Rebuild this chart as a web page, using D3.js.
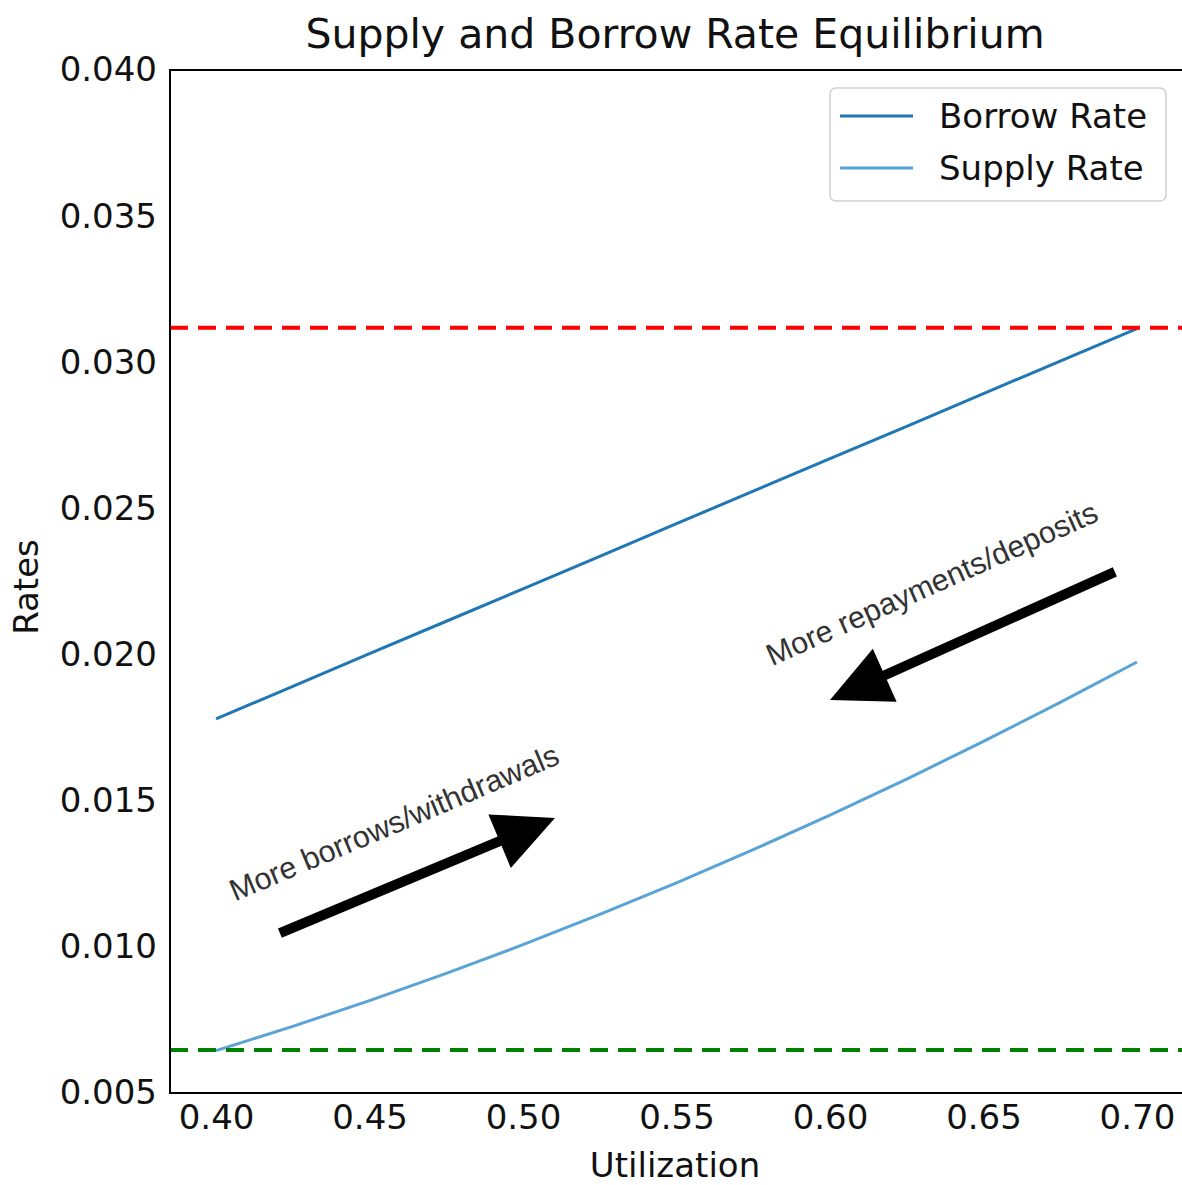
<!DOCTYPE html>
<html>
<head>
<meta charset="utf-8">
<script src="https://cdn.jsdelivr.net/npm/d3@7"></script>
<style>
  body { margin: 0; background: #fff; }
</style>
</head>
<body>
<svg id="chart" width="1182" height="1185" font-family="DejaVu Sans, sans-serif"></svg>
<script>
// ---- data ----
const utilization = [0.400, 0.425, 0.450, 0.475, 0.500, 0.525, 0.550, 0.575, 0.600, 0.625, 0.650, 0.675, 0.700];
const borrowRate  = [0.01780, 0.01891, 0.02003, 0.02114, 0.02225, 0.02336, 0.02448, 0.02559, 0.02670, 0.02781, 0.02893, 0.03004, 0.03115];
const supplyRate  = [0.006448, 0.007279, 0.008161, 0.009093, 0.010075, 0.011108, 0.012191, 0.013324, 0.014508, 0.015742, 0.017027, 0.018362, 0.019747];
const maxRateLine = 0.03118;
const minRateLine = 0.00647;
const xTicks = [0.40, 0.45, 0.50, 0.55, 0.60, 0.65, 0.70];
const yTicks = [0.005, 0.010, 0.015, 0.020, 0.025, 0.030, 0.035, 0.040];
const seriesNames = ["Borrow Rate", "Supply Rate"];
const annotationTexts = ["More borrows/withdrawals", "More repayments/deposits"];
const annotationAnchors = [[0.4062, 0.01155], [0.5811, 0.01960]];
const arrowTails = [[0.4208, 0.01047], [0.6928, 0.02283]];
const arrowTips  = [[0.5104, 0.01441], [0.6000, 0.01845]];

// ---- layout ----
const svg = d3.select("#chart");
const pLeft = 170, pTop = 70, pRight = 1183, pBottom = 1093;
const x = d3.scaleLinear().domain([0.385, 0.715]).range([pLeft, pRight]);
const y = d3.scaleLinear().domain([0.005, 0.040]).range([pBottom, pTop]);

const colors = ["#1f77b4", "#5aa3d6"];
const FS = 34;

// title
svg.append("text").attr("x", 675).attr("y", 48).attr("text-anchor", "middle")
  .attr("font-size", 41).attr("fill", "#111").text("Supply and Borrow Rate Equilibrium");

// axes
const xAxis = svg.append("g").attr("transform", `translate(0,${pBottom})`)
  .call(d3.axisBottom(x).tickValues(xTicks).tickFormat(d3.format(".2f")).tickSize(0).tickPadding(12));
const yAxis = svg.append("g").attr("transform", `translate(${pLeft},0)`)
  .call(d3.axisLeft(y).tickValues(yTicks).tickFormat(d3.format(".3f")).tickSize(0).tickPadding(13));
[xAxis, yAxis].forEach(g => {
  g.attr("font-family", null).attr("font-size", null);
  g.select(".domain").remove();
  g.selectAll("text").attr("font-size", FS).attr("fill", "#111");
});

// axis labels
svg.append("text").attr("x", 675).attr("y", 1177).attr("text-anchor", "middle")
  .attr("font-size", FS).attr("fill", "#111").text("Utilization");
svg.append("text").attr("transform", "translate(38,587) rotate(-90)").attr("text-anchor", "middle")
  .attr("font-size", FS).attr("fill", "#111").text("Rates");

// clip
svg.append("clipPath").attr("id", "clip").append("rect")
  .attr("x", pLeft).attr("y", pTop).attr("width", pRight - pLeft).attr("height", pBottom - pTop);
const plot = svg.append("g").attr("clip-path", "url(#clip)");

const line = d3.line().x(d => x(d[0])).y(d => y(d[1]));
plot.append("path").datum(utilization.map((u, i) => [u, borrowRate[i]]))
  .attr("d", line).attr("fill", "none").attr("stroke", colors[0]).attr("stroke-width", 3);
plot.append("path").datum(utilization.map((u, i) => [u, supplyRate[i]]))
  .attr("d", line).attr("fill", "none").attr("stroke", colors[1]).attr("stroke-width", 3);

// reference lines
plot.append("line").attr("x1", pLeft).attr("x2", pRight).attr("y1", y(maxRateLine)).attr("y2", y(maxRateLine))
  .attr("stroke", "#ff0000").attr("stroke-width", 4).attr("stroke-dasharray", "18 10");
plot.append("line").attr("x1", pLeft).attr("x2", pRight).attr("y1", y(minRateLine)).attr("y2", y(minRateLine))
  .attr("stroke", "#008000").attr("stroke-width", 4).attr("stroke-dasharray", "18 10");

// arrows
const shaftW = 10, headW = 58, headL = 60;
arrowTails.forEach((t, i) => {
  const x0 = x(t[0]), y0 = y(t[1]), x1 = x(arrowTips[i][0]), y1 = y(arrowTips[i][1]);
  const dx = x1 - x0, dy = y1 - y0, len = Math.hypot(dx, dy);
  const ux = dx / len, uy = dy / len, px = -uy, py = ux;
  const bx = x1 - ux * headL, by = y1 - uy * headL;
  const pts = [
    [x0 + px * shaftW / 2, y0 + py * shaftW / 2],
    [bx + px * shaftW / 2, by + py * shaftW / 2],
    [bx + px * headW / 2, by + py * headW / 2],
    [x1, y1],
    [bx - px * headW / 2, by - py * headW / 2],
    [bx - px * shaftW / 2, by - py * shaftW / 2],
    [x0 - px * shaftW / 2, y0 - py * shaftW / 2]
  ];
  plot.append("polygon").attr("points", pts.map(p => p.join(",")).join(" ")).attr("fill", "#000");
});

// annotation texts
const angles = [-23, -24];
annotationTexts.forEach((txt, i) => {
  const ax = x(annotationAnchors[i][0]), ay = y(annotationAnchors[i][1]);
  plot.append("text").attr("transform", `translate(${ax},${ay}) rotate(${angles[i]})`)
    .attr("font-family", "Liberation Sans, Arial, sans-serif").attr("font-size", 30.5)
    .attr("fill", "#333").text(txt);
});

// frame
svg.append("rect").attr("x", pLeft).attr("y", pTop).attr("width", pRight - pLeft).attr("height", pBottom - pTop)
  .attr("fill", "none").attr("stroke", "#000").attr("stroke-width", 2);

// legend
const lg = svg.append("g");
lg.append("rect").attr("x", 830).attr("y", 88).attr("width", 336).attr("height", 113)
  .attr("rx", 6).attr("fill", "#fff").attr("fill-opacity", 0.8).attr("stroke", "#d0d0d0").attr("stroke-width", 1.5);
seriesNames.forEach((name, i) => {
  const ly = 116 + i * 52;
  lg.append("line").attr("x1", 840).attr("x2", 913).attr("y1", ly).attr("y2", ly)
    .attr("stroke", colors[i]).attr("stroke-width", 3);
  lg.append("text").attr("x", 939).attr("y", ly + 12).attr("font-size", FS).attr("fill", "#111").text(name);
});
</script>
</body>
</html>
